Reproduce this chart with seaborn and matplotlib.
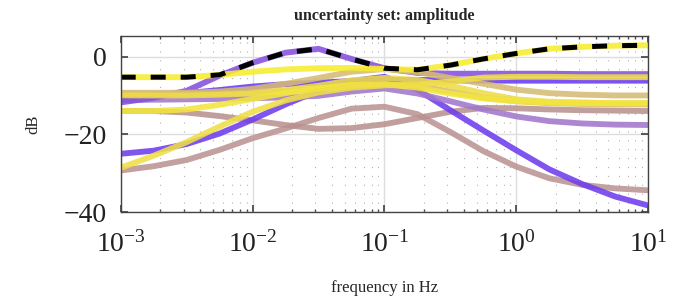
import numpy as np
import pandas as pd
import seaborn as sns
import matplotlib
matplotlib.use("Agg")
import matplotlib.pyplot as plt
from matplotlib.ticker import LogLocator, FixedLocator

# log10 of frequency in Hz, one value every quarter decade
log_freq = [-3, -2.75, -2.5, -2.25, -2, -1.75, -1.5, -1.25, -1,
            -0.75, -0.5, -0.25, 0, 0.25, 0.5, 0.75, 1]

# amplitude of each sample of the uncertainty set, in dB
mauve_bump = [-29.3, -28.2, -26.6, -24.0, -21.0, -18.5, -15.8, -13.4, -12.9,
              -14.8, -19.4, -24.3, -28.3, -31.3, -33.0, -33.9, -34.4]
mauve_dip = [-14.0, -14.0, -14.4, -15.3, -16.4, -17.6, -18.6, -18.4, -17.4,
             -15.8, -14.2, -13.2, -13.3, -13.6, -13.8, -13.9, -14.0]
violet_drop = [-25.0, -24.2, -22.5, -19.8, -16.2, -12.3, -8.8, -6.3, -5.2,
               -8.5, -13.8, -19.0, -24.1, -29.0, -32.8, -36.0, -38.3]
purple_light = [-11.2, -11.1, -11.0, -10.9, -10.7, -10.5, -10.1, -9.0, -8.2,
                -9.5, -11.5, -13.6, -15.4, -16.6, -17.2, -17.5, -17.6]
blue_flat = [-10.3, -10.0, -9.4, -8.6, -7.7, -7.1, -6.7, -6.3, -6.0,
             -6.0, -6.1, -6.2, -6.2, -6.2, -6.2, -6.2, -6.2]
purple_peak = [-11.8, -10.6, -8.8, -4.9, -1.6, 1.0, 2.0, -0.6, -3.0,
               -4.2, -4.4, -4.4, -4.4, -4.4, -4.5, -4.5, -4.5]
tan_high = [-9.3, -9.3, -9.3, -9.0, -8.3, -7.0, -5.5, -3.9, -3.2,
            -4.0, -5.5, -7.0, -8.5, -9.4, -9.8, -10.0, -10.0]
tan_low = [-9.6, -9.6, -9.6, -9.5, -9.3, -8.9, -8.3, -7.6, -7.0,
           -7.5, -9.0, -10.5, -11.5, -12.0, -12.2, -12.3, -12.3]
yellow_mid = [-10.0, -10.0, -10.0, -9.8, -9.5, -8.6, -7.5, -6.1, -5.5,
              -6.0, -7.5, -9.4, -11.0, -11.6, -11.8, -12.0, -12.0]
yellow_low = [-14.0, -14.0, -13.6, -12.4, -10.9, -9.4, -8.2, -7.3, -7.1,
              -8.0, -9.5, -10.8, -11.5, -11.8, -12.0, -12.0, -12.0]
yellow_rise = [-28.6, -25.5, -22.0, -18.0, -14.2, -11.3, -9.2, -8.0, -7.4,
               -7.2, -6.4, -5.4, -5.2, -5.2, -5.3, -5.3, -5.3]
yellow_top = [-5.3, -5.3, -5.3, -4.7, -3.9, -3.3, -3.0, -2.9, -3.2,
              -3.4, -2.2, -0.6, 0.8, 2.0, 2.5, 2.8, 2.9]

curves = [
    (mauve_bump, "#bb9494"),
    (mauve_dip, "#b9928f"),
    (violet_drop, "#6e3cec"),
    (purple_light, "#a277cc"),
    (blue_flat, "#6a3af5"),
    (purple_peak, "#8550dc"),
    (tan_high, "#d6bb74"),
    (tan_low, "#d8bd70"),
    (yellow_mid, "#eedc48"),
    (yellow_low, "#f3e63c"),
    (yellow_rise, "#efdf45"),
    (yellow_top, "#f7ec2e"),
]

freq = 10.0 ** np.array(log_freq)

sns.set_theme(style="ticks")
plt.rcParams["font.family"] = ["Liberation Serif", "DejaVu Serif"]
plt.rcParams["mathtext.fontset"] = "stix"

fig = plt.figure(figsize=(6.78, 3.03), dpi=100)
ax = fig.add_axes([0.178, 0.300, 0.778, 0.580])

for vals, col in curves:
    sns.lineplot(x=freq, y=vals, ax=ax, color=col, lw=4.2, alpha=0.88,
                 solid_capstyle="butt")

# upper bound of the set
upper = np.max(np.array([c[0] for c in curves]), axis=0)
sns.lineplot(x=freq, y=upper, ax=ax, color="black", lw=3.6,
             dashes=False, linestyle=(0, (3.0, 3.0)))

ax.set_xscale("log")
ax.set_xlim(1e-3, 1e1)
ax.set_ylim(-40, 5.2)
ax.yaxis.set_major_locator(FixedLocator([-40, -20, 0]))
ax.xaxis.set_major_locator(LogLocator(base=10, numticks=10))
ax.xaxis.set_minor_locator(LogLocator(base=10, subs=np.arange(2, 10), numticks=20))

ax.grid(which="major", color="#dddddd", lw=1.0, ls="-")
ax.grid(which="minor", axis="x", color="#b0b0b0", lw=0.8, ls=(0, (1, 7)))
ax.set_axisbelow(True)

for s in ax.spines.values():
    s.set_color("#444444")
    s.set_linewidth(1.0)
ax.tick_params(which="both", direction="in", top=True, right=True,
               colors="#444444", labelcolor="#222222")
ax.tick_params(which="major", length=5, labelsize=20)
ax.tick_params(axis="x", which="major", pad=14)
ax.tick_params(axis="y", which="major", pad=10)
ax.tick_params(which="minor", length=2.5)

ax.set_title("uncertainty set: amplitude", fontsize=11.5, fontweight="bold", pad=12)
ax.set_xlabel("frequency in Hz", fontsize=12, labelpad=16)
ax.set_ylabel("dB", fontsize=12, labelpad=16)

fig.savefig("out.png", dpi=100)
